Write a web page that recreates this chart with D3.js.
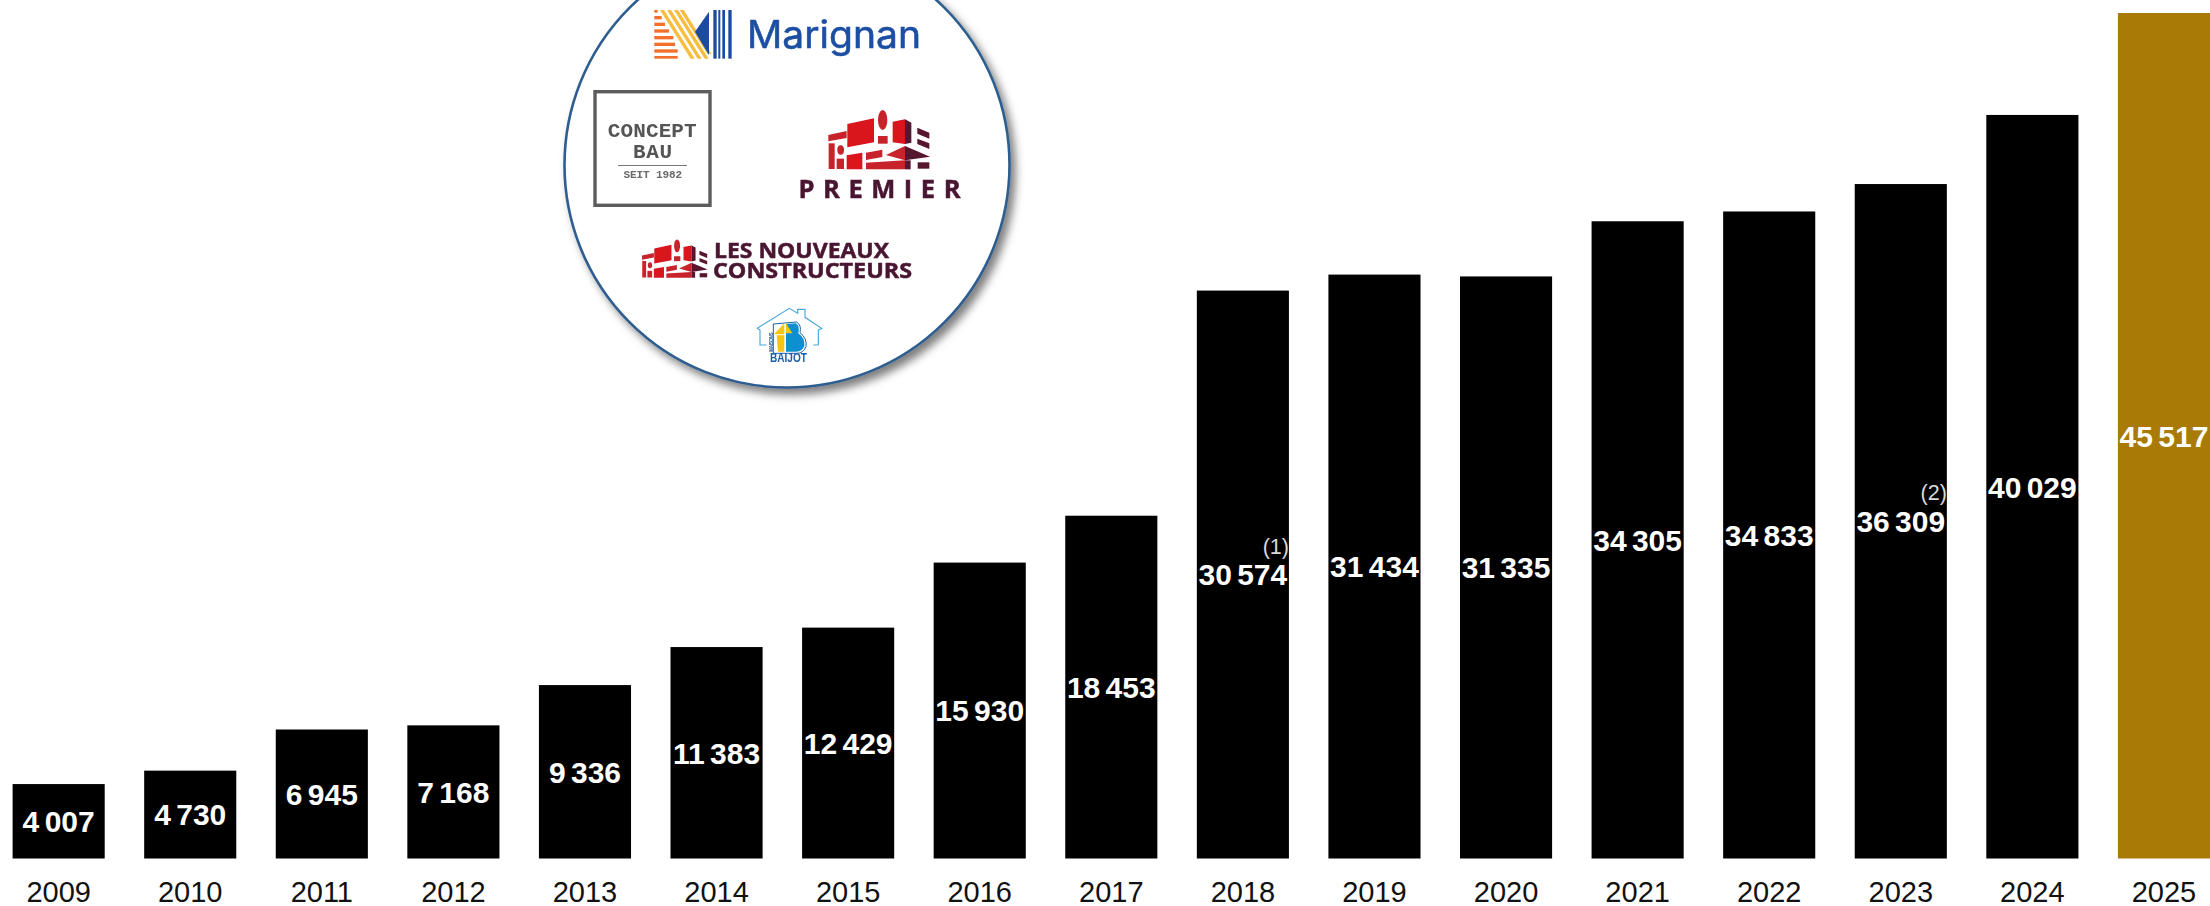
<!DOCTYPE html>
<html><head><meta charset="utf-8">
<script src="https://cdn.jsdelivr.net/npm/d3@7/dist/d3.min.js"></script>
<style>html,body{margin:0;padding:0;background:#fff;overflow:hidden}svg{display:block}</style>
</head><body><svg id="c" width="2210" height="906"></svg>
<script>
const years=["2009","2010","2011","2012","2013","2014","2015","2016","2017","2018","2019","2020","2021","2022","2023","2024","2025"];
const values=[4007,4730,6945,7168,9336,11383,12429,15930,18453,30574,31434,31335,34305,34833,36309,40029,45517];
const labels=["4 007","4 730","6 945","7 168","9 336","11 383","12 429","15 930","18 453","30 574","31 434","31 335","34 305","34 833","36 309","40 029","45 517"];
const notes=[{year:"2018",text:"(1)"},{year:"2023",text:"(2)"}];
const highlightYear="2025";

const svg=d3.select("#c");
const x=d3.scaleBand().domain(years).range([12.6,2210]).paddingInner(0.3).paddingOuter(0);
const y=d3.scaleLinear().domain([0,45517]).range([858.5,13]);
const FONT="'Liberation Sans',Arial,sans-serif";
const valueOf=yr=>values[years.indexOf(yr)];

const defs=svg.append("defs");
defs.append("filter").attr("id","soft").attr("x","-5%").attr("y","-5%").attr("width","110%").attr("height","110%")
  .append("feGaussianBlur").attr("stdDeviation",0.45);
defs.append("filter").attr("id","sh").attr("x","-10%").attr("y","-10%").attr("width","125%").attr("height","125%")
  .append("feDropShadow").attr("dx",5).attr("dy",6).attr("stdDeviation",4)
  .attr("flood-color","#000").attr("flood-opacity",0.5);
defs.append("clipPath").attr("id","lnc").append("rect").attr("x",600).attr("y",230).attr("width",120).attr("height",48);

// bars
svg.append("g").selectAll("rect").data(years).join("rect")
  .attr("x",d=>x(d)).attr("width",x.bandwidth())
  .attr("y",d=>y(valueOf(d))).attr("height",d=>y(0)-y(valueOf(d)))
  .attr("fill",d=>d===highlightYear?"#a97b06":"#000");

// value labels
svg.append("g").selectAll("text").data(years).join("text")
  .attr("x",d=>x(d)+x.bandwidth()/2)
  .attr("y",d=>(y(0)+y(valueOf(d)))/2)
  .attr("dy","0.36em").attr("text-anchor","middle")
  .attr("font-family",FONT).attr("font-weight",700).attr("font-size",30)
  .attr("word-spacing",-3).attr("fill","#fff")
  .text((d,i)=>labels[i]);

// footnote markers
svg.append("g").selectAll("text").data(notes).join("text")
  .attr("x",d=>x(d.year)+x.bandwidth())
  .attr("y",d=>(y(0)+y(valueOf(d.year)))/2-21)
  .attr("text-anchor","end").attr("font-family",FONT).attr("font-size",21.5)
  .attr("fill","#d9d9d9").text(d=>d.text);

// axis
const axis=svg.append("g").attr("transform",`translate(0,${y(0)})`)
  .call(d3.axisBottom(x).tickSize(0).tickPadding(23));
axis.select(".domain").remove();
axis.selectAll("text").attr("font-family",FONT).attr("font-size",29).attr("fill","#111");

// ---- circle with partner logos ----
svg.append("circle").attr("cx",787).attr("cy",165).attr("r",222.5)
  .attr("fill","#fff").attr("stroke","#2f5d8f").attr("stroke-width",2.6).attr("filter","url(#sh)");
const L=svg.append("g").attr("filter","url(#soft)");

const poly=(g,pts,fill)=>g.append("polygon").attr("points",pts.map(p=>p.join(",")).join(" ")).attr("fill",fill);

// Marignan
const M=L.append("g").attr("transform","translate(645,0) scale(0.3333)");
[[30,38,38],[48,58,50],[68,78,60],[88,98,72],[108,118,85],[128,138,90],[148,158,98],[168,176,98]].forEach(r=>{
  M.append("rect").attr("x",28).attr("y",r[0]).attr("width",r[2]-28).attr("height",r[1]-r[0]).attr("fill","#f26f2c");
});
[[45,57],[66,78],[87,99],[104,116]].forEach((s,i)=>{
  const dy=i===3?132:146, k=0.63;
  poly(M,[[s[0],30],[s[1],30],[s[1]+dy*k,30+dy],[s[0]+dy*k,30+dy]],"#f8bd3f");
});
poly(M,[[192,35],[192,165],[150,95]],"#1a4ba0");
[[205,10],[220,6],[232,8],[250,10]].forEach(b=>{
  M.append("rect").attr("x",b[0]).attr("y",30).attr("width",b[1]).attr("height",146).attr("fill","#1a4ba0");
});
L.append("text").attr("x",747).attr("y",47.7).attr("font-family","Inter,Lato,sans-serif").attr("font-size",38)
  .attr("textLength",174).attr("lengthAdjust","spacingAndGlyphs").attr("fill","#1f50a3")
  .attr("stroke","#1f50a3").attr("stroke-width",0.6).text("Marignan");

// Concept Bau
L.append("rect").attr("x",595).attr("y",91.7).attr("width",115).attr("height",113.6)
  .attr("fill","#fff").attr("stroke","#5c5c5c").attr("stroke-width",3.4);
const cb=(t,x0,len,base,size,col)=>L.append("text").attr("x",x0).attr("y",base)
  .attr("font-family","'Liberation Sans Narrow','Liberation Mono',monospace").attr("font-weight",700).attr("font-size",size)
  .attr("textLength",len).attr("lengthAdjust","spacing").attr("fill",col).text(t);
cb("CONCEPT",607.7,89,136.7,21,"#555");
cb("BAU",633,39,157.7,21,"#555");
L.append("line").attr("x1",618).attr("x2",687).attr("y1",165.5).attr("y2",165.5).attr("stroke","#777").attr("stroke-width",1);
cb("SEIT 1982",623.5,58.5,178,11,"#6a6a6a");

// brick building used by Premier and Les Nouveaux Constructeurs
function building(g){
  const R="#d8121f",C="#c8202a",D="#55122f";
  poly(g,[[115,105],[170,93],[170,114],[115,124]],C);
  poly(g,[[172,72],[252,55],[252,127],[172,142]],R);
  g.append("ellipse").attr("cx",278).attr("cy",60).attr("rx",14).attr("ry",30).attr("fill",C);
  poly(g,[[264,108],[293,108],[293,131],[264,131]],C);
  poly(g,[[308,65],[345,58],[345,132],[308,127]],R);
  poly(g,[[345,58],[364,68],[364,128],[345,132]],D);
  poly(g,[[382,83],[418,98],[418,116],[382,101]],D);
  poly(g,[[382,116],[418,130],[418,147],[382,132]],D);
  poly(g,[[116,130],[134,130],[134,207],[116,207]],C);
  poly(g,[[140,176],[162,176],[162,207],[140,207]],C);
  g.append("ellipse").attr("cx",152).attr("cy",150).attr("rx",10).attr("ry",14).attr("fill",C);
  poly(g,[[170,166],[217,158],[217,208],[170,208]],R);
  poly(g,[[228,158],[277,149],[277,171],[228,180]],C);
  poly(g,[[288,165],[345,138],[345,181]],C);
  poly(g,[[345,138],[420,170],[345,181]],D);
  poly(g,[[228,188],[345,181],[345,208],[228,208]],C);
  poly(g,[[345,181],[362,181],[362,208],[345,208]],D);
  poly(g,[[383,187],[418,187],[418,206],[383,206]],D);
}
// Premier
building(L.append("g").attr("transform","translate(790,100) scale(0.3333)"));
L.append("text").attr("x",798.5).attr("y",198).attr("font-family","'Open Sans',sans-serif").attr("font-weight",700)
  .attr("font-size",25.5).attr("textLength",162).attr("lengthAdjust","spacing").attr("fill","#4a1531")
  .attr("stroke","#4a1531").attr("stroke-width",0.5).text("PREMIER");

// Les Nouveaux Constructeurs
const lncClip=L.append("g").attr("clip-path","url(#lnc)");
building(lncClip.append("g").attr("transform","translate(617.3,233) scale(0.215)"));
const lnc=(t,x0,len,base)=>L.append("text").attr("x",x0).attr("y",base).attr("font-family","'Open Sans',sans-serif")
  .attr("font-weight",700).attr("font-size",22).attr("textLength",len).attr("lengthAdjust","spacingAndGlyphs")
  .attr("fill","#4a1531").attr("stroke","#4a1531").attr("stroke-width",0.5).text(t);
lnc("LES NOUVEAUX",714,175,258);
lnc("CONSTRUCTEURS",713,199,278);

// Baijot
const B=L.append("g").attr("transform","translate(750,300) scale(0.3333)");
B.append("path").attr("d","M50,135 L30,135 L30,90 L22,85 L118,25 L143,40 L143,28 L165,28 L165,52 L215,85 L205,90 L205,135 L190,135")
  .attr("fill","none").attr("stroke","#4aa8dc").attr("stroke-width",3.5);
B.append("path").attr("d","M70,72 L140,66 Q155,75 150,98 Q172,115 168,140 Q160,160 140,160 L70,160 Z")
  .attr("fill","#fff").attr("stroke","#1a5fae").attr("stroke-width",3);
B.append("path").attr("d","M108,72 L138,70 Q150,78 145,100 Q166,115 163,138 Q157,155 138,155 L108,155 Z").attr("fill","#0c8fd2");
poly(B,[[72,103],[103,70],[103,103]],"#f5c518");
poly(B,[[108,70],[127,100],[108,100]],"#f5c518");
poly(B,[[80,106],[103,106],[103,155],[84,155]],"#f5c518");
B.append("text").attr("transform","translate(68,155) rotate(-90)").attr("font-family",FONT).attr("font-weight",700)
  .attr("font-size",14).attr("textLength",58).attr("fill","#1a5fae").text("MAISONS");
L.append("text").attr("x",770).attr("y",362).attr("font-family",FONT).attr("font-weight",700).attr("font-size",12.5)
  .attr("textLength",37).attr("lengthAdjust","spacingAndGlyphs").attr("fill","#1a5fae").text("BAIJOT");
</script></body></html>
